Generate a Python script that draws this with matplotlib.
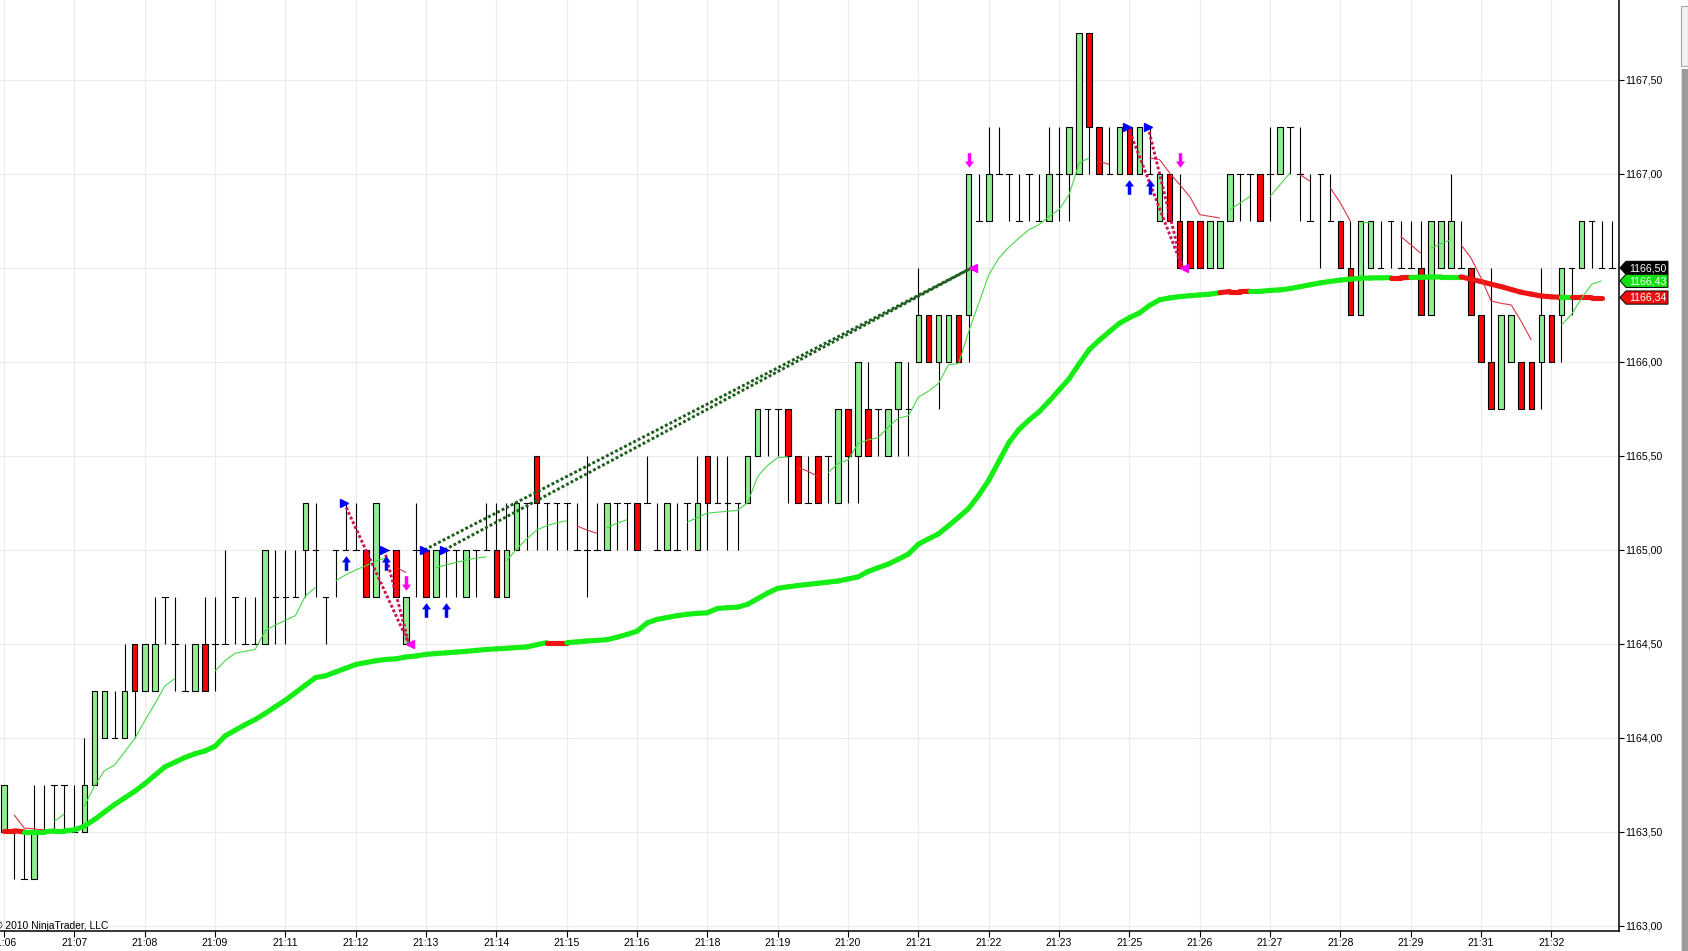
import numpy as np
import matplotlib.pyplot as plt
from matplotlib.patches import Rectangle, Polygon
from matplotlib.collections import LineCollection
from matplotlib.transforms import IdentityTransform

plt.rcParams['font.family'] = ['Liberation Sans', 'DejaVu Sans']

# one entry per bar, ES ticks of 0.25
opens = [
	1163.50, 1163.50, 1163.25, 1163.25, 1163.50, 1163.75, 1163.75, 1163.50, 1163.50, 1163.75,
	1164.00, 1164.00, 1164.00, 1164.50, 1164.25, 1164.25, 1164.75, 1164.50, 1164.25, 1164.25,
	1164.50, 1164.50, 1164.50, 1164.75, 1164.50, 1164.50, 1164.50, 1164.75, 1164.75, 1164.75,
	1165.00, 1165.00, 1164.75, 1165.00, 1165.00, 1165.00, 1165.00, 1164.75, 1165.00, 1165.00,
	1164.50, 1165.00, 1165.00, 1164.75, 1165.00, 1165.00, 1164.75, 1165.00, 1165.00, 1165.00,
	1164.75, 1165.00, 1165.25, 1165.50, 1165.25, 1165.25, 1165.25, 1165.00, 1165.00, 1165.00,
	1165.00, 1165.25, 1165.25, 1165.25, 1165.25, 1165.00, 1165.00, 1165.00, 1165.25, 1165.00,
	1165.50, 1165.25, 1165.25, 1165.25, 1165.25, 1165.50, 1165.75, 1165.75, 1165.75, 1165.50,
	1165.25, 1165.50, 1165.50, 1165.25, 1165.75, 1165.50, 1165.75, 1165.75, 1165.50, 1165.75,
	1165.75, 1166.00, 1166.25, 1166.00, 1166.00, 1166.25, 1166.25, 1166.75, 1166.75, 1167.00,
	1167.00, 1166.75, 1167.00, 1166.75, 1166.75, 1167.00, 1167.00, 1167.00, 1167.75, 1167.25,
	1167.00, 1167.00, 1167.25, 1167.00, 1167.00, 1166.75, 1167.00, 1166.75, 1166.75, 1166.75,
	1166.50, 1166.50, 1166.75, 1167.00, 1167.00, 1167.00, 1167.00, 1167.00, 1167.25, 1167.00,
	1166.75, 1167.00, 1166.75, 1166.75, 1166.50, 1166.25, 1166.50, 1166.50, 1166.75, 1166.50,
	1166.50, 1166.50, 1166.25, 1166.50, 1166.50, 1166.50, 1166.50, 1166.25, 1166.00, 1165.75,
	1166.00, 1166.00, 1166.00, 1166.00, 1166.25, 1166.25, 1166.50, 1166.50, 1166.75, 1166.50,
	1166.50]
highs = [
	1163.75, 1163.50, 1163.50, 1163.75, 1163.75, 1163.75, 1163.75, 1163.75, 1164.00, 1164.25,
	1164.25, 1164.25, 1164.50, 1164.50, 1164.50, 1164.75, 1164.75, 1164.75, 1164.50, 1164.50,
	1164.75, 1164.75, 1165.00, 1164.75, 1164.75, 1164.75, 1165.00, 1165.00, 1165.00, 1165.00,
	1165.25, 1165.25, 1164.75, 1165.00, 1165.25, 1165.25, 1165.00, 1165.25, 1165.00, 1165.00,
	1164.75, 1165.25, 1165.00, 1165.00, 1165.00, 1165.00, 1165.00, 1165.00, 1165.25, 1165.25,
	1165.25, 1165.25, 1165.25, 1165.50, 1165.25, 1165.25, 1165.25, 1165.25, 1165.50, 1165.25,
	1165.25, 1165.25, 1165.25, 1165.25, 1165.50, 1165.25, 1165.25, 1165.25, 1165.25, 1165.50,
	1165.50, 1165.50, 1165.50, 1165.25, 1165.50, 1165.75, 1165.75, 1165.75, 1165.75, 1165.50,
	1165.50, 1165.50, 1165.50, 1165.75, 1165.75, 1166.00, 1166.00, 1165.75, 1165.75, 1166.00,
	1166.00, 1166.50, 1166.25, 1166.25, 1166.25, 1166.25, 1167.00, 1167.00, 1167.25, 1167.25,
	1167.00, 1167.00, 1167.00, 1167.00, 1167.25, 1167.25, 1167.25, 1167.75, 1167.75, 1167.25,
	1167.25, 1167.25, 1167.25, 1167.25, 1167.25, 1167.00, 1167.00, 1167.00, 1166.75, 1166.75,
	1166.75, 1166.75, 1167.00, 1167.00, 1167.00, 1167.00, 1167.25, 1167.25, 1167.25, 1167.25,
	1167.00, 1167.00, 1167.00, 1166.75, 1166.75, 1166.75, 1166.75, 1166.75, 1166.75, 1166.75,
	1166.75, 1166.75, 1166.75, 1166.75, 1167.00, 1166.75, 1166.50, 1166.25, 1166.50, 1166.25,
	1166.25, 1166.00, 1166.00, 1166.50, 1166.25, 1166.50, 1166.50, 1166.75, 1166.75, 1166.75,
	1166.75]
lows = [
	1163.50, 1163.25, 1163.25, 1163.25, 1163.50, 1163.50, 1163.50, 1163.50, 1163.50, 1163.75,
	1164.00, 1164.00, 1164.00, 1164.00, 1164.25, 1164.25, 1164.50, 1164.25, 1164.25, 1164.25,
	1164.25, 1164.25, 1164.50, 1164.50, 1164.50, 1164.50, 1164.50, 1164.50, 1164.50, 1164.75,
	1164.75, 1164.75, 1164.50, 1164.75, 1165.00, 1165.00, 1164.75, 1164.75, 1165.00, 1164.75,
	1164.50, 1164.75, 1164.75, 1164.75, 1164.75, 1164.75, 1164.75, 1164.75, 1165.00, 1164.75,
	1164.75, 1165.00, 1165.00, 1165.00, 1165.00, 1165.00, 1165.00, 1165.00, 1164.75, 1165.00,
	1165.00, 1165.00, 1165.00, 1165.00, 1165.25, 1165.00, 1165.00, 1165.00, 1165.00, 1165.00,
	1165.00, 1165.25, 1165.00, 1165.00, 1165.25, 1165.50, 1165.50, 1165.50, 1165.25, 1165.25,
	1165.25, 1165.25, 1165.25, 1165.25, 1165.25, 1165.25, 1165.50, 1165.50, 1165.50, 1165.50,
	1165.50, 1166.00, 1166.00, 1165.75, 1166.00, 1166.00, 1166.00, 1166.75, 1166.75, 1167.00,
	1166.75, 1166.75, 1166.75, 1166.75, 1166.75, 1166.75, 1166.75, 1167.00, 1167.00, 1167.00,
	1167.00, 1167.00, 1167.00, 1167.00, 1167.00, 1166.75, 1166.75, 1166.50, 1166.50, 1166.50,
	1166.50, 1166.50, 1166.75, 1166.75, 1166.75, 1166.75, 1166.75, 1167.00, 1167.00, 1166.75,
	1166.75, 1166.50, 1166.75, 1166.50, 1166.25, 1166.25, 1166.50, 1166.50, 1166.50, 1166.50,
	1166.50, 1166.25, 1166.25, 1166.50, 1166.50, 1166.50, 1166.25, 1166.00, 1165.75, 1165.75,
	1166.00, 1165.75, 1165.75, 1165.75, 1166.00, 1166.00, 1166.25, 1166.50, 1166.50, 1166.50,
	1166.50]
closes = [
	1163.75, 1163.50, 1163.25, 1163.50, 1163.50, 1163.75, 1163.75, 1163.50, 1163.75, 1164.25,
	1164.25, 1164.00, 1164.25, 1164.25, 1164.50, 1164.50, 1164.75, 1164.50, 1164.25, 1164.50,
	1164.25, 1164.50, 1164.50, 1164.75, 1164.50, 1164.50, 1165.00, 1164.75, 1164.75, 1164.75,
	1165.25, 1165.00, 1164.75, 1165.00, 1165.00, 1165.00, 1164.75, 1165.25, 1165.00, 1164.75,
	1164.75, 1165.00, 1164.75, 1165.00, 1165.00, 1165.00, 1165.00, 1165.00, 1165.00, 1164.75,
	1165.00, 1165.25, 1165.25, 1165.25, 1165.25, 1165.25, 1165.25, 1165.00, 1165.00, 1165.00,
	1165.25, 1165.25, 1165.25, 1165.00, 1165.25, 1165.00, 1165.25, 1165.00, 1165.25, 1165.25,
	1165.25, 1165.25, 1165.25, 1165.25, 1165.50, 1165.75, 1165.75, 1165.75, 1165.50, 1165.25,
	1165.25, 1165.25, 1165.50, 1165.75, 1165.50, 1166.00, 1165.50, 1165.75, 1165.75, 1166.00,
	1165.75, 1166.25, 1166.00, 1166.25, 1166.25, 1166.00, 1167.00, 1166.75, 1167.00, 1167.00,
	1167.00, 1166.75, 1167.00, 1166.75, 1167.00, 1167.00, 1167.25, 1167.75, 1167.25, 1167.00,
	1167.00, 1167.25, 1167.00, 1167.25, 1167.00, 1167.00, 1166.75, 1166.50, 1166.50, 1166.50,
	1166.75, 1166.75, 1167.00, 1167.00, 1167.00, 1166.75, 1167.00, 1167.25, 1167.25, 1167.00,
	1166.75, 1167.00, 1166.75, 1166.50, 1166.25, 1166.75, 1166.75, 1166.50, 1166.75, 1166.50,
	1166.50, 1166.25, 1166.75, 1166.75, 1166.75, 1166.50, 1166.25, 1166.00, 1165.75, 1166.25,
	1166.25, 1165.75, 1165.75, 1166.25, 1166.00, 1166.50, 1166.50, 1166.75, 1166.75, 1166.50,
	1166.50]

# fast average (thin line) and its plot state: g = rising, r = falling, - = not drawn
fastMa = [
	1163.61, 1163.59, 1163.52, 1163.515, 1163.51, 1163.555, 1163.595, 1163.59, 1163.635, 1163.745,
	1163.825, 1163.855, 1163.925, 1163.995, 1164.09, 1164.18, 1164.275, 1164.315, 1164.32, 1164.32,
	1164.33, 1164.355, 1164.41, 1164.45, 1164.46, 1164.47, 1164.57, 1164.60, 1164.625, 1164.65,
	1164.755, 1164.80, 1164.80, 1164.835, 1164.867, 1164.893, 1164.915, 1164.94, 1164.956, 1164.906,
	1164.88, 1164.89, 1164.90, 1164.906, 1164.92, 1164.933, 1164.945, 1164.956, 1164.963, 1164.93,
	1164.941, 1165.004, 1165.057, 1165.105, 1165.128, 1165.143, 1165.155, 1165.128, 1165.105, 1165.088,
	1165.117, 1165.142, 1165.16, 1165.165, 1165.155, 1165.145, 1165.145, 1165.135, 1165.147, 1165.172,
	1165.195, 1165.20, 1165.205, 1165.21, 1165.25, 1165.39, 1165.45, 1165.49, 1165.495, 1165.44,
	1165.418, 1165.39, 1165.41, 1165.46, 1165.478, 1165.567, 1165.585, 1165.597, 1165.654, 1165.70,
	1165.713, 1165.812, 1165.844, 1165.885, 1165.986, 1165.99, 1166.16, 1166.311, 1166.463, 1166.551,
	1166.61, 1166.658, 1166.703, 1166.73, 1166.774, 1166.81, 1166.89, 1167.058, 1167.085, 1167.067,
	1167.05, 1167.05, 1167.06, 1167.08, 1167.085, 1167.076, 1167.005, 1166.943, 1166.88, 1166.783,
	1166.774, 1166.765, 1166.81, 1166.845, 1166.88, 1166.86, 1166.88, 1166.943, 1167.005, 1166.995,
	1166.96, 1166.95, 1166.925, 1166.845, 1166.747, 1166.742, 1166.742, 1166.72, 1166.70, 1166.667,
	1166.623, 1166.578, 1166.605, 1166.628, 1166.65, 1166.623, 1166.552, 1166.445, 1166.324, 1166.311,
	1166.303, 1166.214, 1166.116, 1166.14, 1166.17, 1166.196, 1166.253, 1166.338, 1166.413, 1166.431,
	np.nan]
fastState = ('-' + 'r' * 4 + 'g' * 2 + '-' + 'g' * 10 + '-' * 3 + 'g' * 11 + '-' + 'g' * 6
	+ 'r' * 2 + '-' * 2 + 'g' * 6 + '-' + 'g' * 7 + 'r' * 3 + 'g' * 3 + '-' * 5 + 'g' * 11
	+ 'r' * 3 + 'g' * 27 + 'r' * 2 + '-' * 3 + 'r' * 8 + 'g' * 3 + '-' + 'g' * 3 + 'r' * 2
	+ '-' + 'r' * 3 + 'g' * 2 + '-' * 2 + 'r' * 3 + 'g' * 3 + 'r' * 8 + '-' * 2 + 'g' * 5 + '-')

# slow average (thick line) and its colour state per bar
slowMa = [
	1163.505, 1163.505, 1163.50, 1163.50, 1163.50, 1163.505, 1163.505, 1163.51, 1163.53, 1163.565,
	1163.605, 1163.645, 1163.68, 1163.715, 1163.755, 1163.80, 1163.845, 1163.87, 1163.895, 1163.915,
	1163.93, 1163.955, 1164.01, 1164.04, 1164.07, 1164.097, 1164.13, 1164.165, 1164.20, 1164.24,
	1164.28, 1164.32, 1164.33, 1164.35, 1164.37, 1164.39, 1164.40, 1164.41, 1164.417, 1164.42,
	1164.43, 1164.435, 1164.444, 1164.448, 1164.452, 1164.456, 1164.46, 1164.465, 1164.47, 1164.473,
	1164.476, 1164.48, 1164.483, 1164.495, 1164.506, 1164.506, 1164.506, 1164.51, 1164.515, 1164.518,
	1164.522, 1164.535, 1164.55, 1164.567, 1164.611, 1164.63, 1164.64, 1164.65, 1164.657, 1164.662,
	1164.665, 1164.688, 1164.692, 1164.695, 1164.71, 1164.74, 1164.77, 1164.795, 1164.803, 1164.81,
	1164.816, 1164.822, 1164.828, 1164.834, 1164.845, 1164.856, 1164.885, 1164.905, 1164.924, 1164.95,
	1164.977, 1165.03, 1165.058, 1165.085, 1165.128, 1165.173, 1165.22, 1165.29, 1165.37, 1165.47,
	1165.57, 1165.64, 1165.69, 1165.734, 1165.79, 1165.85, 1165.91, 1165.99, 1166.065, 1166.115,
	1166.16, 1166.205, 1166.235, 1166.26, 1166.30, 1166.33, 1166.34, 1166.347, 1166.352, 1166.356,
	1166.36, 1166.368, 1166.374, 1166.374, 1166.375, 1166.375, 1166.38, 1166.383, 1166.39, 1166.40,
	1166.41, 1166.42, 1166.428, 1166.435, 1166.44, 1166.445, 1166.446, 1166.447, 1166.448, 1166.448,
	1166.449, 1166.45, 1166.451, 1166.452, 1166.452, 1166.452, 1166.44, 1166.427, 1166.413, 1166.40,
	1166.385, 1166.37, 1166.36, 1166.35, 1166.346, 1166.343, 1166.343, 1166.343, 1166.342, 1166.342,
	np.nan]
slowState = ('r' * 3 + 'g' * 52 + 'r' * 2 + 'g' * 65 + 'r' * 3 + 'g' * 14 + 'r' * 2 + 'g' * 5
	+ 'r' * 10 + 'g' + 'r' * 3 + '-')

# trades: entry bar / price -> exit bar / price
entryBars = [34, 38, 42, 44, 112, 114]
entryPrices = [1165.25, 1165.00, 1165.00, 1165.00, 1167.25, 1167.25]
exitBars = [40, 40, 96, 96, 117, 117]
exitPrices = [1164.50, 1164.50, 1166.50, 1166.50, 1166.50, 1166.50]

timeLabels = ['21:06', '21:07', '21:08', '21:09', '21:11', '21:12', '21:13', '21:14', '21:15',
	'21:16', '21:18', '21:19', '21:20', '21:21', '21:22', '21:23', '21:25', '21:26', '21:27',
	'21:28', '21:29', '21:31', '21:32']
priceTicks = [1163.0, 1163.5, 1164.0, 1164.5, 1165.0, 1165.5, 1166.0, 1166.5, 1167.0, 1167.5]

UP_COL = '#90EE90'
DOWN_COL = '#FF0000'
MA_GREEN = '#14EE14'
MA_RED = '#EE1414'
FAST_GREEN = '#46D846'
FAST_RED = '#DC3246'

def fmtPrice(v):
	return ('%.2f' % v).replace('.', ',')

def stateSegments(vals, state, needSame):
	segs, cols = [], []
	for i in range(1, len(vals)):
		if not (np.isfinite(vals[i]) and np.isfinite(vals[i - 1])):
			continue
		if needSame and (state[i] != state[i - 1] or state[i] == '-'):
			continue
		segs.append([(i - 1, vals[i - 1]), (i, vals[i])])
		cols.append(state[i])
	return segs, cols

W, H = 1688, 951
fig = plt.figure(figsize=(W / 100.0, H / 100.0), dpi=100)
ax = fig.add_axes([0, 0.0212, 0.9594, 0.9788])
n = len(closes)

# candles
bodyW = 0.56
wicks = [[(i, lows[i]), (i, highs[i])] for i in range(n)]
ax.add_collection(LineCollection(wicks, colors='black', linewidths=0.8, zorder=2))
for i in range(n):
	o, c = opens[i], closes[i]
	if o == c:
		ax.plot([i - bodyW / 2, i + bodyW / 2], [o, o], color='black', lw=0.8, zorder=3)
	else:
		col = UP_COL if c > o else DOWN_COL
		ax.add_patch(Rectangle((i - bodyW / 2, min(o, c)), bodyW, abs(c - o),
			facecolor=col, edgecolor='black', lw=0.8, zorder=3))

# slow average, thick, coloured by state
segs, st = stateSegments(slowMa, slowState, False)
ax.add_collection(LineCollection(segs, colors=[MA_GREEN if s == 'g' else MA_RED for s in st],
	linewidths=3.7, capstyle='round', zorder=4))

# fast average, thin, drawn only inside runs of one state
segs, st = stateSegments(fastMa, fastState, True)
ax.add_collection(LineCollection(segs, colors=[FAST_GREEN if s == 'g' else FAST_RED for s in st],
	linewidths=0.8, zorder=5))

# trade lines and markers
upArrow = [(0, 1), (-0.62, 0.15), (-0.24, 0.15), (-0.24, -1), (0.24, -1), (0.24, 0.15), (0.62, 0.15)]
downArrow = [(px, -py) for px, py in upArrow]
for eb, ep, xb, xp in zip(entryBars, entryPrices, exitBars, exitPrices):
	col = '#1E5E1E' if xp > ep else '#CC1456'
	ax.plot([eb - 0.15, xb + 0.3], [ep, xp], color=col, lw=2.1, linestyle=(0, (1, 0.75)),
		dash_capstyle='butt', zorder=6)
	ax.plot(eb - 0.2, ep, marker='>', ms=5.5, color='#0000FF', mec='#0000FF', zorder=7)
	ax.plot(eb, lows[eb] - 0.068, marker=upArrow, ms=10.5, color='#0000FF', mec='none', zorder=7)
for xb, xp in sorted(set(zip(exitBars, exitPrices))):
	ax.plot(xb + 0.4, xp, marker='<', ms=5.5, color='#FF00FF', mec='#FF00FF', zorder=7)
	ax.plot(xb, highs[xb] + 0.075, marker=downArrow, ms=10.5, color='#FF00FF', mec='none', zorder=7)

# axes
ax.set_xlim(-0.4, 160.77)
ax.set_ylim(1162.973, 1167.925)
ax.set_xticks(np.arange(0, 7 * len(timeLabels), 7))
ax.set_xticklabels(timeLabels)
ax.set_yticks(priceTicks)
ax.set_yticklabels([fmtPrice(v) for v in priceTicks])
ax.yaxis.tick_right()
ax.grid(True, color='#EBEBEB', lw=0.8)
ax.set_axisbelow(True)
for s in ['top', 'left']:
	ax.spines[s].set_visible(False)
for s in ['right', 'bottom']:
	ax.spines[s].set_linewidth(1.1)
	ax.spines[s].set_color('black')
ax.tick_params(axis='y', direction='out', length=3.8, width=0.8, pad=0.6, labelsize=7.6, colors='black')
ax.tick_params(axis='x', direction='out', length=4.4, width=0.8, pad=0.8, labelsize=7.6, colors='black')

ax.annotate('\u00a9 2010 NinjaTrader, LLC', xy=(0, 0), xycoords='axes fraction',
	xytext=(-3.5, 1.6), textcoords='offset points', fontsize=7.4, ha='left', va='baseline')

# price markers on the right axis
tags = [(closes[-1], 'black', 'white'), (fastMa[n - 2], '#10E010', 'white'), (slowMa[n - 2], '#EE1010', 'white')]
xAxis = ax.transAxes.transform((1, 0))[0]
for val, face, tc in tags:
	yd = ax.transData.transform((0, val))[1]
	pts = [(xAxis + 0.5, yd), (xAxis + 6.5, yd + 6.6), (xAxis + 48.5, yd + 6.6),
		(xAxis + 48.5, yd - 6.6), (xAxis + 6.5, yd - 6.6)]
	fig.add_artist(Polygon(pts, closed=True, transform=IdentityTransform(), facecolor=face,
		edgecolor='black', lw=0.7, zorder=10))
	fig.text(xAxis + 28, yd - 0.3, fmtPrice(val), transform=IdentityTransform(), fontsize=7.6,
		color=tc, ha='center', va='center', zorder=11)

# scrollbar strip at the right edge
fig.add_artist(Rectangle((1680.5, 0), 7.5, H - 69, transform=IdentityTransform(),
	facecolor='#9C9C9C', edgecolor='none'))
fig.add_artist(Rectangle((1680.5, 0), 1.5, H - 69, transform=IdentityTransform(),
	facecolor='#DADADA', edgecolor='none'))
fig.add_artist(Rectangle((1680.5, H - 66), 7.5, 60, transform=IdentityTransform(),
	facecolor='#F2F2F2', edgecolor='#A8A8A8', lw=0.8))

fig.savefig('out.png', dpi=100, facecolor='white')
